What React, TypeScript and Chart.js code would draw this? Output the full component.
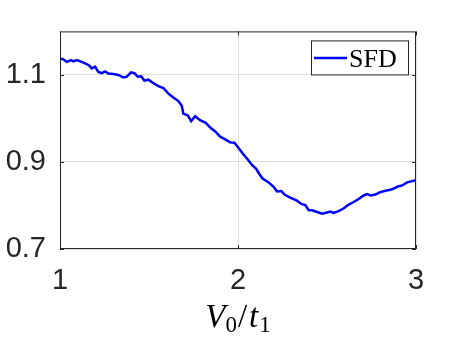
import React, { useEffect, useRef } from "react";
import { Chart, registerables } from "chart.js";

Chart.register(...registerables);

const xValues = [
  1.0, 1.013, 1.038, 1.062, 1.075, 1.094, 1.122, 1.15, 1.165, 1.178, 1.197, 1.215, 1.235, 1.253, 1.272, 1.3,
  1.328, 1.356, 1.375, 1.399, 1.418, 1.437, 1.456, 1.474, 1.497, 1.525, 1.553, 1.581, 1.609, 1.637, 1.665,
  1.684, 1.693, 1.718, 1.737, 1.759, 1.787, 1.819, 1.844, 1.872, 1.9, 1.928, 1.956, 1.98, 2.003, 2.031, 2.056,
  2.078, 2.101, 2.119, 2.138, 2.172, 2.2, 2.219, 2.243, 2.265, 2.294, 2.331, 2.359, 2.378, 2.397, 2.416, 2.444,
  2.472, 2.5, 2.519, 2.537, 2.565, 2.593, 2.622, 2.65, 2.678, 2.706, 2.725, 2.744, 2.772, 2.796, 2.828, 2.856,
  2.875, 2.894, 2.922, 2.95, 2.978, 3.0,
];
const sfdValues = [
  1.136, 1.137, 1.13, 1.134, 1.131, 1.134, 1.13, 1.125, 1.121, 1.115, 1.119, 1.107, 1.104, 1.108, 1.103, 1.102,
  1.1, 1.094, 1.096, 1.106, 1.104, 1.096, 1.097, 1.087, 1.089, 1.081, 1.074, 1.07, 1.057, 1.048, 1.04,
  1.029, 1.011, 1.007, 0.994, 1.005, 0.996, 0.99, 0.979, 0.97, 0.958, 0.952, 0.945, 0.944, 0.932, 0.917, 0.905,
  0.893, 0.885, 0.873, 0.862, 0.853, 0.843, 0.832, 0.833, 0.824, 0.818, 0.811, 0.803, 0.801, 0.789, 0.789, 0.785,
  0.781, 0.784, 0.786, 0.783, 0.787, 0.793, 0.802, 0.808, 0.815, 0.823, 0.826, 0.823, 0.825, 0.83, 0.834, 0.836,
  0.839, 0.843, 0.846, 0.853, 0.856, 0.858,
];
const xTicks = [1, 2, 3];
const yTicks = [0.7, 0.9, 1.1];
const seriesLabel = "SFD";

const AXIS_COLOR = "#262626";
const GRID_COLOR = "#dfdfdf";
const LINE_COLOR = "#0000ff";
const TICK_FONT = "Liberation Sans";
const SERIF = "Liberation Serif";

const decorPlugin = {
  id: "decor",
  afterDatasetsDraw(chart: any) {
    const { ctx, chartArea, scales } = chart;
    const { left, right, top, bottom } = chartArea;
    ctx.save();
    // box
    ctx.strokeStyle = AXIS_COLOR;
    ctx.lineWidth = 1;
    ctx.strokeRect(left + 0.5, top + 0.5, right - left - 1, bottom - top - 1);
    // inward ticks
    const tl = 4;
    ctx.beginPath();
    xTicks.forEach((v) => {
      const px = Math.round(scales.x.getPixelForValue(v)) + 0.5;
      ctx.moveTo(px, bottom);
      ctx.lineTo(px, bottom - tl);
      ctx.moveTo(px, top);
      ctx.lineTo(px, top + tl);
    });
    yTicks.forEach((v) => {
      const py = Math.round(scales.y.getPixelForValue(v)) + 0.5;
      ctx.moveTo(left, py);
      ctx.lineTo(left + tl, py);
      ctx.moveTo(right, py);
      ctx.lineTo(right - tl, py);
    });
    ctx.stroke();

    // legend
    const lx = right - 105;
    const ly = top + 9;
    const lw = 98;
    const lh = 35;
    ctx.fillStyle = "#ffffff";
    ctx.fillRect(lx, ly, lw, lh);
    ctx.strokeStyle = AXIS_COLOR;
    ctx.lineWidth = 1;
    ctx.strokeRect(lx + 0.5, ly + 0.5, lw - 1, lh - 1);
    ctx.strokeStyle = LINE_COLOR;
    ctx.lineWidth = 2.5;
    ctx.beginPath();
    ctx.moveTo(lx + 3, ly + lh / 2);
    ctx.lineTo(lx + 36, ly + lh / 2);
    ctx.stroke();
    ctx.fillStyle = "#000000";
    ctx.font = `26px "${SERIF}"`;
    ctx.textBaseline = "alphabetic";
    ctx.textAlign = "left";
    ctx.fillText(seriesLabel, lx + 38, ly + lh / 2 + 9);

    // x-axis title V_0/t_1
    const big = 33;
    const small = 23;
    const parts = [
      { t: "V", font: `italic ${big}px "${SERIF}"`, dy: 0, gap: 0 },
      { t: "0", font: `${small}px "${SERIF}"`, dy: 5, gap: 0 },
      { t: "/", font: `${big}px "${SERIF}"`, dy: 0, gap: 1 },
      { t: "t", font: `italic ${big}px "${SERIF}"`, dy: 0, gap: 2 },
      { t: "1", font: `${small}px "${SERIF}"`, dy: 5, gap: 1 },
    ];
    let total = 0;
    const widths = parts.map((p) => {
      ctx.font = p.font;
      const w = ctx.measureText(p.t).width;
      total += w + p.gap;
      return w;
    });
    let cx = (left + right) / 2 - total / 2;
    const baseY = 327;
    ctx.fillStyle = "#000000";
    parts.forEach((p, i) => {
      cx += p.gap;
      ctx.font = p.font;
      ctx.fillText(p.t, cx, baseY + p.dy);
      cx += widths[i];
    });
    ctx.restore();
  },
};

export default function App() {
  const ref = useRef<HTMLCanvasElement | null>(null);
  useEffect(() => {
    if (!ref.current) return;
    const chart = new Chart(ref.current, {
      type: "line",
      data: {
        datasets: [
          {
            label: seriesLabel,
            data: xValues.map((x, i) => ({ x, y: sfdValues[i] })),
            borderColor: LINE_COLOR,
            backgroundColor: LINE_COLOR,
            borderWidth: 2.5,
            pointRadius: 0,
            tension: 0,
            fill: false,
          },
        ],
      },
      options: {
        responsive: false,
        animation: false,
        events: [],
        layout: { padding: { left: 0, top: 25, right: 43, bottom: 0 } },
        plugins: { legend: { display: false }, tooltip: { enabled: false }, title: { display: false } },
        scales: {
          x: {
            type: "linear",
            min: 1,
            max: 3,
            afterBuildTicks: (s: any) => {
              s.ticks = xTicks.map((v) => ({ value: v }));
            },
            afterFit: (s: any) => {
              s.height = 95;
            },
            grid: { color: GRID_COLOR, drawTicks: false, lineWidth: 1 },
            border: { display: false },
            ticks: {
              font: { family: TICK_FONT, size: 29 },
              color: AXIS_COLOR,
              padding: 15,
              maxRotation: 0,
              callback: (v: any) => String(v),
            },
          },
          y: {
            type: "linear",
            min: 0.7,
            max: 1.2,
            afterBuildTicks: (s: any) => {
              s.ticks = yTicks.map((v) => ({ value: v }));
            },
            afterFit: (s: any) => {
              s.width = 60;
            },
            grid: { color: GRID_COLOR, drawTicks: false, lineWidth: 1 },
            border: { display: false },
            ticks: {
              font: { family: TICK_FONT, size: 29 },
              color: AXIS_COLOR,
              padding: 14,
              callback: (v: any) => Number(v).toFixed(1),
            },
          },
        },
      },
      plugins: [decorPlugin],
    });
    return () => chart.destroy();
  }, []);
  return (
    <div style={{ position: "absolute", left: 0, top: 0, width: 459, height: 344, background: "#fff" }}>
      <canvas ref={ref} width={459} height={344} />
    </div>
  );
}
